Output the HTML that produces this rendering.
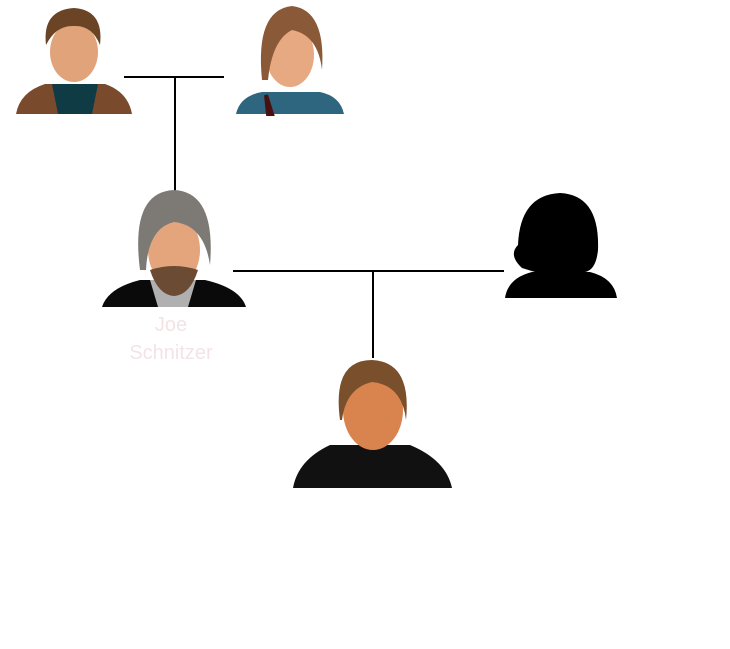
<!DOCTYPE html>
<html><head><meta charset="utf-8"><style>
body{margin:0;background:#fff;width:730px;height:649px;overflow:hidden;font-family:"Liberation Sans",sans-serif}
svg{position:absolute;left:0;top:0}
.t{position:absolute;left:100px;width:142px;text-align:center;color:#f3e3e6;font-size:20px;line-height:28px;top:311px}
</style></head><body>
<svg width="730" height="649" viewBox="0 0 730 649">
<g stroke="#000" stroke-width="2" fill="none">
<line x1="124" y1="77" x2="224" y2="77"/><line x1="175" y1="77" x2="175" y2="192"/>
<line x1="233" y1="271" x2="504" y2="271"/><line x1="373" y1="271" x2="373" y2="358"/>
</g>
<!-- avatar 1 -->
<path d="M16 114 Q20 92 45 84 L105 84 Q128 92 132 114Z" fill="#7a4a2c"/>
<path d="M52 84 L98 84 L92 114 L58 114Z" fill="#0e3b44"/>
<ellipse cx="74" cy="52" rx="24" ry="30" fill="#e0a37a"/>
<path d="M46 45 Q42 10 74 8 Q104 10 100 45 Q92 25 74 26 Q56 25 46 45Z" fill="#6b4425"/>
<!-- avatar 2 -->
<path d="M236 114 Q240 96 262 92 L320 92 Q340 96 344 114Z" fill="#2e6680"/>
<path d="M266 95 L272 114 L268 114Z" fill="#4a1010" stroke="#4a1010" stroke-width="4"/>
<ellipse cx="290" cy="55" rx="24" ry="32" fill="#e6a982"/>
<path d="M262 80 Q255 10 292 6 Q326 10 322 70 Q318 35 292 30 Q272 40 268 80Z" fill="#8a5a38"/>
<!-- avatar 3 -->
<path d="M102 307 Q108 288 140 280 L205 280 Q240 288 246 307Z" fill="#0a0a0a"/>
<path d="M150 280 L196 280 L188 307 L158 307Z" fill="#b0b0b0"/>
<ellipse cx="174" cy="250" rx="26" ry="36" fill="#e4a57c"/>
<path d="M140 270 Q130 192 174 190 Q216 192 210 265 Q204 225 174 222 Q148 228 146 270Z" fill="#7d7a76"/>
<path d="M150 270 Q174 262 198 270 Q190 295 174 296 Q158 295 150 270Z" fill="#6b4b33"/>
<!-- silhouette -->
<path d="M505 298 Q508 278 532 272 L590 272 Q614 278 617 298Z" fill="#000"/>
<path d="M522 268 Q508 255 518 245 Q520 195 560 193 Q600 195 598 250 Q596 270 585 272 L535 272Z" fill="#000"/>
<!-- avatar 4 -->
<path d="M293 488 Q298 460 330 445 L410 445 Q446 460 452 488Z" fill="#111"/>
<ellipse cx="373" cy="410" rx="30" ry="40" fill="#d9834f"/>
<path d="M340 420 Q332 360 372 360 Q412 362 406 420 Q402 385 372 382 Q346 388 342 420Z" fill="#7a4f2b"/>
</svg>
<div class="t">Joe<br>Schnitzer</div>
</body></html>
